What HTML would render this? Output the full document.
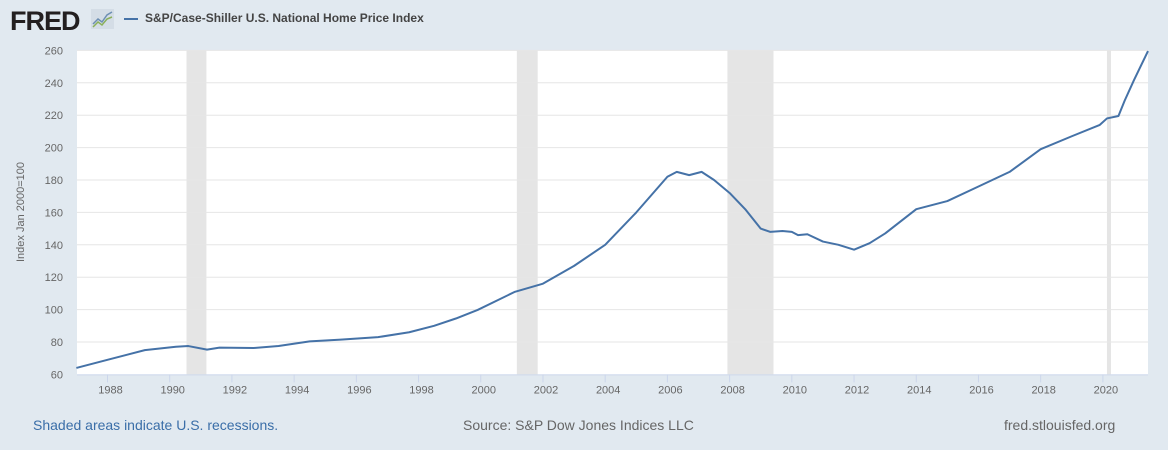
<!DOCTYPE html>
<html><head><meta charset="utf-8"><style>
body{margin:0;width:1168px;height:450px;background:#e1e9f0;font-family:"Liberation Sans",sans-serif;overflow:hidden;position:relative}
.t{position:absolute;white-space:nowrap}
</style></head><body>
<div class="t" style="left:10px;top:6px;font-size:27px;font-weight:bold;color:#231f20;letter-spacing:-1px">FRED</div>
<svg style="position:absolute;left:91px;top:9px" width="23" height="20"><rect width="23" height="20" fill="#d4dde6"/><polyline points="2,15 7,10 11,13 16,6 21,3" fill="none" stroke="#6d8fb3" stroke-width="1.5"/><polyline points="2,18 7,13 11,16 16,10 21,8" fill="none" stroke="#8ab05a" stroke-width="1.5"/></svg>
<div style="position:absolute;left:124px;top:18px;width:14px;height:2px;background:#4572a7"></div>
<div class="t" style="left:145px;top:11px;font-size:12px;font-weight:bold;color:#444">S&amp;P/Case-Shiller U.S. National Home Price Index</div>
<svg id="c" style="position:absolute;left:0;top:0" width="1168" height="450"></svg>
<div class="t" style="left:33px;top:417px;font-size:14px;color:#3a6ea8">Shaded areas indicate U.S. recessions.</div>
<div class="t" style="left:463px;top:417px;font-size:14px;color:#666">Source: S&amp;P Dow Jones Indices LLC</div>
<div class="t" style="left:1004px;top:417px;font-size:14px;color:#666">fred.stlouisfed.org</div>
<script>
const years=[1987,1988,1989.2,1990.2,1990.6,1991.2,1991.6,1992.7,1993.5,1994.5,1995.5,1996.7,1997.7,1998.5,1999.2,1999.9,2001.1,2002,2003,2004,2005,2006,2006.3,2006.7,2007.1,2007.5,2008,2008.5,2009,2009.3,2009.7,2010,2010.2,2010.5,2011,2011.5,2012,2012.5,2013,2014,2015,2016,2017,2018,2019,2019.9,2020.13,2020.5,2020.7,2021,2021.45];
const values=[64,69,75,77.1,77.5,75.3,76.5,76.3,77.5,80.4,81.5,83,86,90,94.5,99.8,111,116,127,140,160,182,185,183,185,180,172,162,150,148,148.5,148,146,146.5,142,140,137,141,147,162,167,176,185,199,207,214,218,219.5,229,241.7,259.6];
const recStart=[1990.54,2001.16,2007.93,2020.13];
const recEnd=[1991.18,2001.83,2009.41,2020.26];
const yTicks=[60,80,100,120,140,160,180,200,220,240,260];
const xTicks=[1988,1990,1992,1994,1996,1998,2000,2002,2004,2006,2008,2010,2012,2014,2016,2018,2020];
const L=77,R=1148,T=50.4,B=374.4,x0=1987.02,x1=2021.45;
const X=v=>L+(v-x0)/(x1-x0)*(R-L), Y=v=>B-(v-60)/200*(B-T);
const s=document.getElementById('c'),NS='http://www.w3.org/2000/svg';
function mk(t,a,p){const e=document.createElementNS(NS,t);for(const k in a)e.setAttribute(k,a[k]);(p||s).appendChild(e);return e;}
const bg=mk('rect',{x:L,y:T,width:R-L,height:B-T,fill:'#fff'});


recStart.forEach((a,i)=>{const r=mk('rect',{x:X(a),y:T,width:X(recEnd[i])-X(a),height:B-T,fill:'#e5e5e5'});

});
yTicks.forEach(v=>{if(v===60)return;const l=mk('line',{x1:L,x2:R,y1:Y(v),y2:Y(v),stroke:'#e6e6e6','stroke-width':1});

});
yTicks.forEach(v=>{const t=mk('text',{x:63,y:Y(v)+4,'text-anchor':'end','font-size':11,fill:'#666'});t.textContent=v;

});
const ax=mk('line',{x1:L,x2:R,y1:B+0.5,y2:B+0.5,stroke:'#ccd6eb'});


xTicks.forEach(v=>{const l=mk('line',{x1:X(v),x2:X(v),y1:B,y2:B+8,stroke:'#ccd6eb'});


const t=mk('text',{x:X(v)+3,y:B+19,'text-anchor':'middle','font-size':11,fill:'#666'});t.textContent=v;

});
const yt=mk('text',{x:0,y:0,transform:'translate(24,212) rotate(-90)','text-anchor':'middle','font-size':11,fill:'#666'});yt.textContent='Index Jan 2000=100';


const p=mk('polyline',{points:years.map((y,i)=>X(y)+','+Y(values[i])).join(' '),fill:'none',stroke:'#4572a7','stroke-width':2,'stroke-linejoin':'round'});


</script>
</body></html>
